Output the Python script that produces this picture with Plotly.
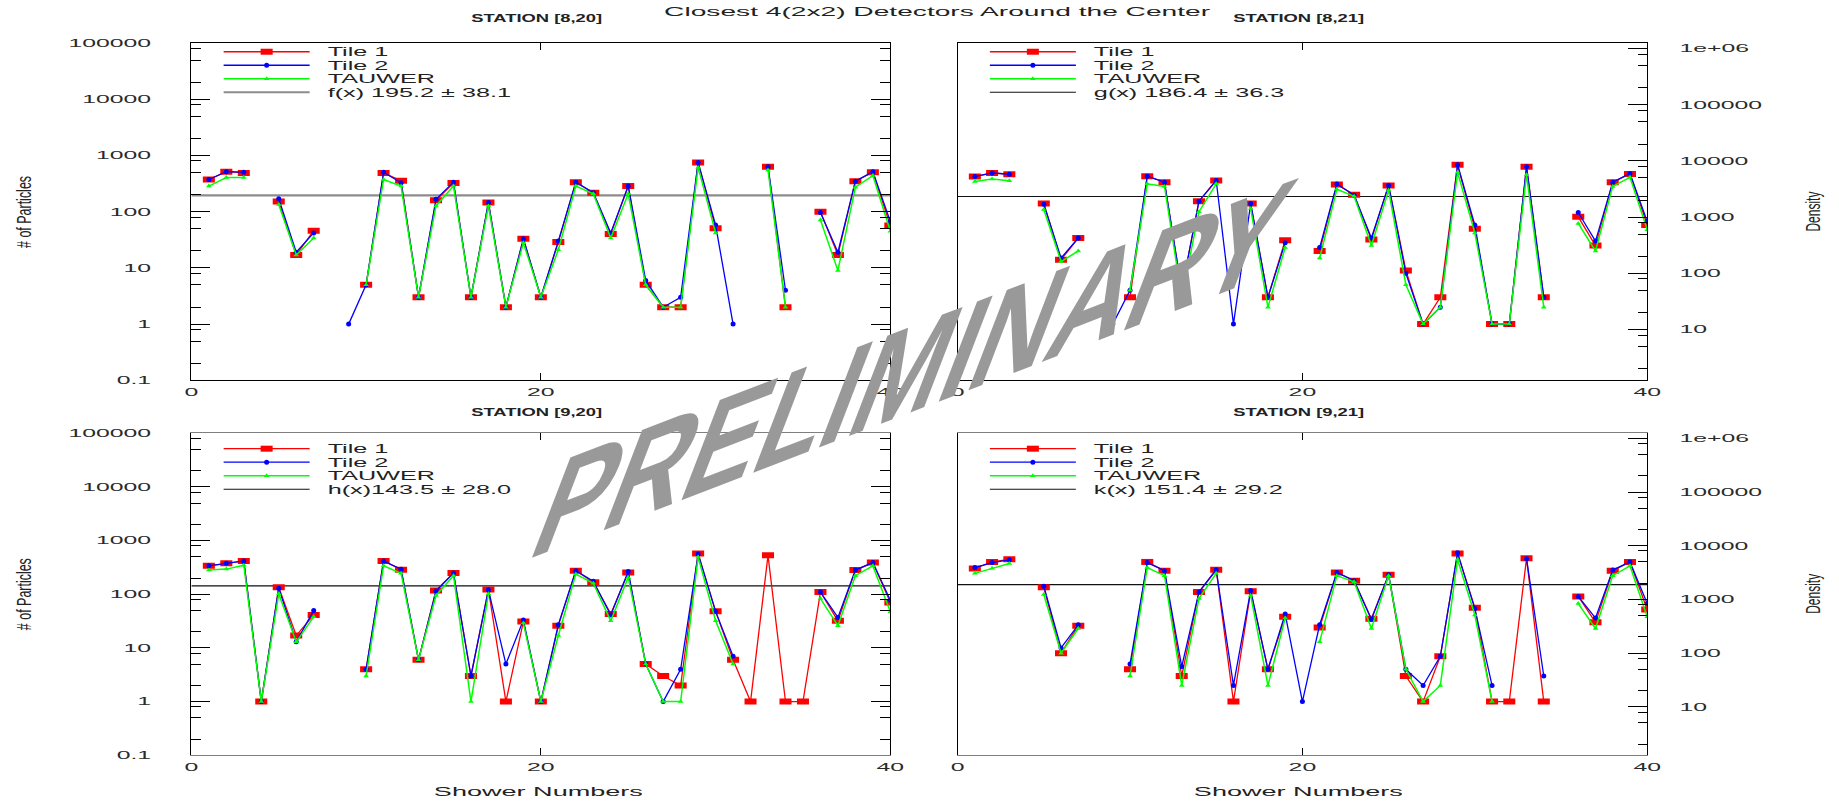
import math
import plotly.graph_objects as go

W, H = 1839, 801

# Shower index along the x axis
SHOWERS = list(range(1, 41))

# STATION [8,20]
T1_8_20 = [374, 517, 490, None, 152, 17, 46, None, None, 5,
           490, 355, 3, 160, 323, 3, 146, 2, 33, 3,
           29, 336, 218, 40, 286, 5, 2, 2, 754, 51,
           None, None, 634, 2, None, 100, 17, 350, 504, 57]
T2_8_20 = [374, 517, 505, None, 171, 19, 42, None, 1, 5,
           505, 327, 3, 167, 336, 3, 146, 2, 33, 3,
           30, 336, 218, 42, 286, 6, 2, 3, 754, 58,
           1, None, 634, 4, None, 97, 19, 350, 517, 67]
TW_8_20 = [286, 405, 405, None, 134, 17, 34, None, None, 5,
           374, 286, 3, 127, 286, 3, 127, 2, 28, 3,
           21, 286, 209, 34, 209, 5, 2, 2, 615, 42,
           None, None, 553, 2, None, 71, 9, 274, 440, 45]

# STATION [8,21]
T1_8_21 = [423, 490, 464, None, 140, 14, 34, None, None, 3,
           428, 336, 4, 154, 359, None, 140, 3, 31, None,
           20, 306, 201, 32, 294, 9, 1, 3, 686, 50,
           1, 1, 634, 3, None, 81, 25, 336, 471, 58]
T2_8_21 = [423, 490, 464, None, 136, 15, 34, None, 1, 4,
           428, 336, 4, 154, 359, 1, 140, 3, 28, None,
           23, 312, 197, 34, 294, 8, 1, 2, 686, 58,
           1, 1, 634, 3, None, 97, 30, 336, 480, 67]
TW_8_21 = [345, 384, 354, None, 110, 13, 20, None, None, 4,
           314, 282, 3, 100, 314, None, 114, 2, 23, None,
           15, 250, 188, 25, 240, 5, 1, 2, 503, 42,
           1, 1, 457, 2, None, 62, 20, 282, 411, 48]

# STATION [9,20]
T1_9_20 = [338, 378, 418, 1, 135, 17, 41, None, None, 4,
           418, 286, 6, 118, 248, 3, 123, 1, 31, 1,
           26, 274, 167, 43, 255, 5, 3, 2, 577, 48,
           6, 1, 531, 1, 1, 110, 32, 282, 389, 70]
T2_9_20 = [338, 378, 418, 1, 130, 13, 50, None, None, 4,
           418, 292, 6, 115, 248, 3, 121, 5, 33, 1,
           27, 274, 175, 41, 265, 5, 1, 4, 560, 48,
           7, None, None, None, None, 110, 37, 282, 389, 77]
TW_9_20 = [282, 294, 348, 1, 102, 13, 38, None, None, 3,
           338, 245, 6, 95, 222, 1, 102, None, 29, 1,
           17, 238, 160, 32, 206, 5, 1, 1, 495, 32,
           5, None, None, None, None, 83, 26, 222, 338, 47]

# STATION [9,21]
T1_9_21 = [302, 400, 448, None, 135, 8, 26, None, None, 4,
           400, 274, 3, 110, 286, 1, 114, 4, 38, None,
           24, 255, 179, 35, 231, 3, 1, 7, 577, 56,
           1, 1, 467, 1, None, 91, 30, 274, 400, 52]
T2_9_21 = [315, 389, 437, None, 141, 10, 27, None, None, 5,
           389, 274, 4.5, 110, 286, 2, 118, 4, 43, 1,
           27, 255, 179, 34, 231, 4, 2, 7, 590, 54,
           2, None, 460, 3, None, 91, 36, 282, 400, 67]
TW_9_21 = [245, 306, 373, None, 99, 8, 23, None, None, 3,
           315, 222, 2, 83, 245, None, 95, 2, 36, None,
           13, 222, 171, 23, 222, 4, 1, 2, 445, 41,
           1, None, None, None, None, 67, 23, 222, 338, 38]

STATIONS = ["STATION [8,20]", "STATION [8,21]", "STATION [9,20]", "STATION [9,21]"]
TILE1 = [T1_8_20, T1_8_21, T1_9_20, T1_9_21]
TILE2 = [T2_8_20, T2_8_21, T2_9_20, T2_9_21]
TAUWER = [TW_8_20, TW_8_21, TW_9_20, TW_9_21]
FIT_VALUE = [195.2, 186.4, 143.5, 151.4]
FIT_ERROR = [38.1, 36.3, 28.0, 29.2]
FIT_NAME = ["f(x) ", "g(x) ", "h(x)", "k(x) "]

X_RANGE = [0, 40]
X_TICKS = [0, 20, 40]
X_TICK_TEXT = ["0", "20", "40"]
Y_TICKS = [0.1, 1, 10, 100, 1000, 10000, 100000]
Y_TICK_TEXT = ["0.1", "1", "10", "100", "1000", "10000", "100000"]
DENSITY_TICKS = [10, 100, 1000, 10000, 100000, 1000000]
DENSITY_TICK_TEXT = ["10", "100", "1000", "10000", "100000", "1e+06"]
DENSITY_SCALE = 12.5  # particles -> density conversion

TITLE = "Closest 4(2x2) Detectors Around the Center"

# frame of each pad in pixels: left, right, top, bottom
FRAMES = [(189.3, 891.7, 37.7, 380.0), (959.3, 1652.3, 37.7, 380.0),
          (189.3, 891.7, 433.7, 760.7), (959.3, 1652.3, 433.7, 760.7)]

FONT = "Liberation Sans"
TICK_FONT = dict(family=FONT, size=11, color="#2a2a2a")
RED, BLUE, GREEN = "#ff0000", "#0000ff", "#00ff00"


def hx(p):
    return p / W


def vy(p):
    return 1 - p / H


def minor_vals(lo, hi):
    return [m * 10.0 ** e for e in range(lo, hi) for m in (2, 5, 8)]


fig = go.Figure()
layout = dict(width=W, height=H, margin=dict(l=0, r=0, t=0, b=0, pad=0),
              paper_bgcolor="white", plot_bgcolor="white",
              font=dict(family=FONT, color="#222222"), hovermode=False)

for i in range(4):
    L, R, T, B = FRAMES[i]
    n = "" if i == 0 else str(i + 1)
    xa, ya, leg = "x" + n, "y" + n, "legend" + n
    right = i % 2 == 1
    bottom = i >= 2
    fit_color, fit_width = ("#8c8c8c", 2.2) if i == 0 else ("#111111", 1.1)

    fig.add_trace(go.Scatter(
        x=X_RANGE, y=[FIT_VALUE[i], FIT_VALUE[i]], mode="lines",
        name=f"{FIT_NAME[i]}{FIT_VALUE[i]:.1f} ± {FIT_ERROR[i]:.1f}",
        line=dict(color=fit_color, width=fit_width),
        xaxis=xa, yaxis=ya, legend=leg, legendrank=4))
    fig.add_trace(go.Scatter(
        x=SHOWERS, y=TILE1[i], mode="lines+markers", name="Tile 1",
        line=dict(color=RED, width=1.3),
        marker=dict(symbol="line-ew", size=8.6, color=RED,
                    line=dict(color=RED, width=6)),
        connectgaps=False, xaxis=xa, yaxis=ya, legend=leg, legendrank=1))
    fig.add_trace(go.Scatter(
        x=SHOWERS, y=TILE2[i], mode="lines+markers", name="Tile 2",
        line=dict(color=BLUE, width=1.3),
        marker=dict(symbol="circle", size=5, color=BLUE),
        connectgaps=False, xaxis=xa, yaxis=ya, legend=leg, legendrank=2))
    fig.add_trace(go.Scatter(
        x=SHOWERS, y=TAUWER[i], mode="lines+markers", name="TAUWER",
        line=dict(color=GREEN, width=1.5),
        marker=dict(symbol="triangle-up", size=5, color=GREEN),
        connectgaps=False, xaxis=xa, yaxis=ya, legend=leg, legendrank=3))

    frame_col = "#7f7f7f" if bottom else "#000000"
    layout["xaxis" + n] = dict(
        domain=[hx(L), hx(R)], anchor=ya, range=X_RANGE,
        tickmode="array", tickvals=X_TICKS, ticktext=X_TICK_TEXT,
        ticks="inside", ticklen=7, tickwidth=1, tickcolor="#000000",
        showline=True, linecolor=frame_col, linewidth=1.2, mirror="ticks",
        showgrid=False, zeroline=False, tickfont=TICK_FONT,
        ticklabelstandoff=1, fixedrange=True)

    yax = dict(domain=[vy(B), vy(T)], anchor=xa, type="log", range=[-1, 5],
               showgrid=False, zeroline=False, showline=True,
               linecolor="#000000", linewidth=1.2, fixedrange=True)
    if right:
        yax.update(ticks="", showticklabels=False, mirror=False)
    else:
        yax.update(tickmode="array", tickvals=Y_TICKS, ticktext=Y_TICK_TEXT,
                   ticks="inside", ticklen=19, tickwidth=1, tickcolor="#000000",
                   mirror="ticks", tickfont=TICK_FONT, ticklabelstandoff=37,
                   minor=dict(tickmode="array", tickvals=minor_vals(-1, 5),
                              ticks="inside", ticklen=10, tickwidth=1,
                              tickcolor="#000000", showgrid=False))
    layout["yaxis" + n] = yax

    if right:
        dn = "5" if i == 1 else "6"
        layout["yaxis" + dn] = dict(
            overlaying=ya, anchor=xa, side="right", type="log",
            range=[math.log10(DENSITY_SCALE * Y_TICKS[0]),
                   math.log10(DENSITY_SCALE * Y_TICKS[-1])],
            tickmode="array", tickvals=DENSITY_TICKS, ticktext=DENSITY_TICK_TEXT,
            ticks="inside", ticklen=19, tickwidth=1, tickcolor="#000000",
            showline=True, linecolor="#000000", linewidth=1.2,
            showgrid=False, zeroline=False, tickfont=TICK_FONT,
            ticklabelstandoff=29, fixedrange=True,
            minor=dict(tickmode="array", tickvals=minor_vals(0, 6),
                       ticks="inside", ticklen=9, tickwidth=1,
                       tickcolor="#000000", showgrid=False))
        fig.add_trace(go.Scatter(x=[], y=[], xaxis=xa, yaxis="y" + dn,
                                 showlegend=False, hoverinfo="skip"))

    layout[leg] = dict(
        x=hx(L + 27.4), y=vy(T + (1 if bottom else -6)),
        xanchor="left", yanchor="top",
        bgcolor="rgba(0,0,0,0)", borderwidth=0, itemwidth=86,
        tracegroupgap=0, traceorder="normal",
        font=dict(family=FONT, size=12, color="#222222"))

annotations = [dict(x=hx(939), y=vy(6), text=TITLE,
                    font=dict(family=FONT, size=13, color="#222222"))]
for i, (L, R, T, B) in enumerate(FRAMES):
    dy = 25 if i < 2 else 21
    annotations.append(dict(x=hx((L + R) / 2 - 4), y=vy(T - dy), text=STATIONS[i],
                            font=dict(family=FONT, size=10, color="#222222",
                                      weight="bold")))
for yc in (209, 597):
    annotations.append(dict(x=hx(21), y=vy(yc), text="# of Particles", textangle=-90,
                            font=dict(family=FONT, size=20, color="#222222")))
    annotations.append(dict(x=hx(1819), y=vy(yc), text="Density", textangle=-90,
                            font=dict(family=FONT, size=20, color="#222222")))
for xc in (538, 1302):
    annotations.append(dict(x=hx(xc), y=vy(798), text="Shower Numbers",
                            font=dict(family=FONT, size=12, color="#222222")))
annotations.append(dict(x=hx(900), y=vy(360), text="PRELIMINARY",
                        font=dict(family=FONT, size=120, color="#999999",
                                  weight="bold")))
for a in annotations:
    a.update(xref="paper", yref="paper", showarrow=False,
             xanchor="center", yanchor="middle")
layout["annotations"] = annotations

fig.update_layout(**layout)

# Wide, stretched lettering of the labels, tighter legend rows, legend
# box markers and the slanted PRELIMINARY stamp
POST = r"""
var gd = document.getElementById('{plot_id}');
document.documentElement.style.margin = '0';
document.body.style.margin = '0';
var TICK_K = 2.25, LEGEND_K = 2.1, ROW = 13.5, TEXT_DX = 13;
var WIDTHS = {"Closest": 546, "STATION": 131, "Shower": 209, "#": 72, "Density": 40};
var WM = {x: 525, y: 560, rot: 21, lean: 21, ky: 1.3, len: 790};
function setLen(t, w) {
  t.setAttribute('textLength', w.toFixed(1));
  t.setAttribute('lengthAdjust', 'spacingAndGlyphs');
}
function natural(t) {
  if (!t.dataset.nat) { t.dataset.nat = String(t.getComputedTextLength()); }
  return parseFloat(t.dataset.nat);
}
function slant(t) {
  setLen(t, WM.len);
  t.removeAttribute('transform');
  var bb = t.getBBox();
  var m = t.getScreenCTM().inverse();
  var r = gd.getBoundingClientRect();
  var sx = r.left + WM.x, sy = r.top + WM.y;
  var lx = m.a * sx + m.c * sy + m.e, ly = m.b * sx + m.d * sy + m.f;
  var bx = bb.x, by = bb.y + bb.height * 0.905 / 1.117;
  var b = WM.rot * Math.PI / 180, g = WM.lean * Math.PI / 180;
  var M = [Math.cos(b), -Math.sin(b), -WM.ky * Math.sin(g), WM.ky * Math.cos(g)];
  t.setAttribute('transform', 'translate(' + lx + ',' + ly + ') matrix(' + M.join(',') +
                 ',0,0) translate(' + (-bx) + ',' + (-by) + ')');
}
function legends() {
  var roots = [];
  gd.querySelectorAll('g.infolayer > g').forEach(function (g) {
    var c = g.getAttribute('class') || '';
    if (c.indexOf('legend') === 0) { roots.push(g); }
  });
  roots.forEach(function (root) {
    root.querySelectorAll('g.scrollbox').forEach(function (s) { s.removeAttribute('clip-path'); });
    root.querySelectorAll('text').forEach(function (t) {
      if (t.dataset.x0 === undefined) { t.dataset.x0 = t.getAttribute('x') || '0'; }
      t.setAttribute('x', parseFloat(t.dataset.x0) + TEXT_DX);
      setLen(t, natural(t) * LEGEND_K);
    });
    root.querySelectorAll('path.scatterpts').forEach(function (p) {
      var s = (p.style.stroke || '').replace(/\s/g, '');
      if (s === 'rgb(255,0,0)') { p.style.strokeWidth = '6px'; }
    });
    var items = [];
    root.querySelectorAll('g.traces').forEach(function (it) {
      if (it.dataset.t0 === undefined) { it.dataset.t0 = it.getAttribute('transform') || ''; }
      it.setAttribute('transform', it.dataset.t0);
      items.push({el: it, y: it.getScreenCTM().f});
    });
    if (!items.length) { return; }
    items.sort(function (a, b) { return a.y - b.y; });
    var y0 = items[0].y;
    items.forEach(function (o, k) {
      var d = y0 + k * ROW - o.y;
      o.el.setAttribute('transform', o.el.dataset.t0 + ' translate(0,' + d + ')');
    });
  });
}
function apply() {
  gd.querySelectorAll('g[class$="tick"] > text').forEach(function (t) {
    setLen(t, natural(t) * TICK_K);
  });
  legends();
  gd.querySelectorAll('text.annotation-text').forEach(function (t) {
    var s = t.textContent;
    if (s === 'PRELIMINARY') { slant(t); return; }
    var w = WIDTHS[s.split(' ')[0]];
    if (w) { setLen(t, w); }
  });
}
apply();
[50, 200, 600, 1500].forEach(function (ms) { setTimeout(apply, ms); });
gd.on('plotly_afterplot', apply);
"""

fig.write_html("out.html", post_script=POST,
               config={"responsive": False, "displayModeBar": False})
